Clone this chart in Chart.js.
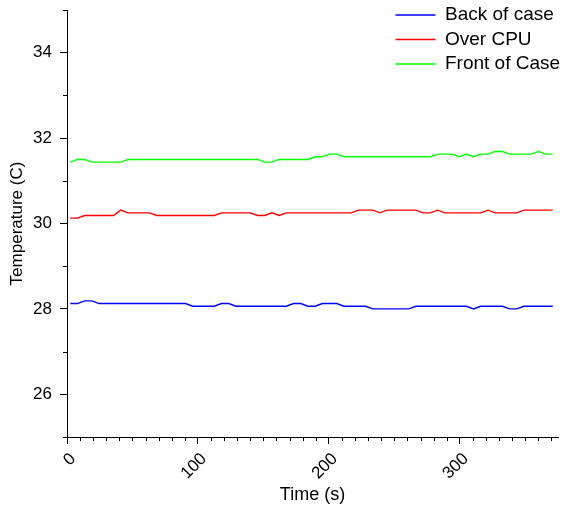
<!DOCTYPE html>
<html>
<head>
<meta charset="utf-8">
<script src="https://cdn.jsdelivr.net/npm/chart.js@4.4.1/dist/chart.umd.min.js"></script>
<style>
  html, body { margin: 0; padding: 0; background: #fff; }
</style>
</head>
<body>
<canvas id="chart" width="570" height="512"></canvas>
<script>
// sample times in seconds
const times = [
  2.5, 8, 13.5, 19, 24.5, 30, 35.5, 41, 46.5, 52,
  57.5, 63, 68.5, 74, 79.5, 85, 90.5, 96, 101.5, 107,
  112.5, 118, 123.5, 129, 134.5, 140, 145.5, 151, 156.5, 162,
  167.5, 173, 178.5, 184, 189.5, 195, 200.5, 206, 211.5, 217,
  222.5, 228, 233.5, 239, 244.5, 250, 255.5, 261, 266.5, 272,
  277.5, 283, 288.5, 294, 299.5, 305, 310.5, 316, 321.5, 327,
  332.5, 338, 343.5, 349, 354.5, 360, 365.5, 371
];

const backOfCase = [
  28.125, 28.125, 28.1875, 28.1875, 28.125, 28.125, 28.125, 28.125, 28.125, 28.125,
  28.125, 28.125, 28.125, 28.125, 28.125, 28.125, 28.125, 28.0625, 28.0625, 28.0625,
  28.0625, 28.125, 28.125, 28.0625, 28.0625, 28.0625, 28.0625, 28.0625, 28.0625, 28.0625,
  28.0625, 28.125, 28.125, 28.0625, 28.0625, 28.125, 28.125, 28.125, 28.0625, 28.0625,
  28.0625, 28.0625, 28.0, 28.0, 28.0, 28.0, 28.0, 28.0, 28.0625, 28.0625,
  28.0625, 28.0625, 28.0625, 28.0625, 28.0625, 28.0625, 28.0, 28.0625, 28.0625, 28.0625,
  28.0625, 28.0, 28.0, 28.0625, 28.0625, 28.0625, 28.0625, 28.0625
];

const overCpu = [
  30.125, 30.125, 30.1875, 30.1875, 30.1875, 30.1875, 30.1875, 30.3125, 30.25, 30.25,
  30.25, 30.25, 30.1875, 30.1875, 30.1875, 30.1875, 30.1875, 30.1875, 30.1875, 30.1875,
  30.1875, 30.25, 30.25, 30.25, 30.25, 30.25, 30.1875, 30.1875, 30.25, 30.1875,
  30.25, 30.25, 30.25, 30.25, 30.25, 30.25, 30.25, 30.25, 30.25, 30.25,
  30.3125, 30.3125, 30.3125, 30.25, 30.3125, 30.3125, 30.3125, 30.3125, 30.3125, 30.25,
  30.25, 30.3125, 30.25, 30.25, 30.25, 30.25, 30.25, 30.25, 30.3125, 30.25,
  30.25, 30.25, 30.25, 30.3125, 30.3125, 30.3125, 30.3125, 30.3125
];

const frontOfCase = [
  31.4375, 31.5, 31.5, 31.4375, 31.4375, 31.4375, 31.4375, 31.4375, 31.5, 31.5,
  31.5, 31.5, 31.5, 31.5, 31.5, 31.5, 31.5, 31.5, 31.5, 31.5,
  31.5, 31.5, 31.5, 31.5, 31.5, 31.5, 31.5, 31.4375, 31.4375, 31.5,
  31.5, 31.5, 31.5, 31.5, 31.5625, 31.5625, 31.625, 31.625, 31.5625, 31.5625,
  31.5625, 31.5625, 31.5625, 31.5625, 31.5625, 31.5625, 31.5625, 31.5625, 31.5625, 31.5625,
  31.5625, 31.625, 31.625, 31.625, 31.5625, 31.625, 31.5625, 31.625, 31.625, 31.6875,
  31.6875, 31.625, 31.625, 31.625, 31.625, 31.6875, 31.625, 31.625
];

const seriesNames = ['Back of case', 'Over CPU', 'Front of Case'];
const seriesColors = ['#0000ff', '#ff0000', '#00ff00'];

const xTicks = [0, 100, 200, 300];
const yTicks = [26, 28, 30, 32, 34];

Chart.defaults.font.family = '"Liberation Sans", Arial, sans-serif';
Chart.defaults.color = '#000';

function toPoints(vals) {
  return vals.map((v, i) => ({ x: times[i], y: v }));
}

// short ticks between the labelled ones
const minorTicks = {
  id: 'minorTicks',
  afterDraw(chart) {
    const { ctx, scales: { x, y } } = chart;
    ctx.save();
    ctx.strokeStyle = '#000';
    ctx.lineWidth = 1;
    ctx.beginPath();
    for (let v = 10; v <= x.max; v += 10) {
      if (v % 100 === 0) continue;
      const px = Math.round(x.getPixelForValue(v)) + 0.5;
      ctx.moveTo(px, x.top);
      ctx.lineTo(px, x.top + 4);
    }
    for (let v = 25; v <= 35; v++) {
      if (v % 2 === 0) continue;
      const py = Math.round(y.getPixelForValue(v)) + 0.5;
      ctx.moveTo(y.right, py);
      ctx.lineTo(y.right - 4, py);
    }
    ctx.stroke();
    ctx.restore();
  }
};

// move the legend to the top right corner, over the plot
const legendSpot = {
  id: 'legendSpot',
  afterLayout(chart) {
    const l = chart.legend;
    l.left = 390;
    l.right = 570;
    l.top = 0;
    l.bottom = 100;
  }
};

const ctx = document.getElementById('chart').getContext('2d');
const myChart = new Chart(ctx, {
  type: 'line',
  data: {
    datasets: [backOfCase, overCpu, frontOfCase].map((vals, i) => ({
      label: seriesNames[i],
      data: toPoints(vals),
      borderColor: seriesColors[i],
      backgroundColor: seriesColors[i],
      borderWidth: 1.4,
      pointRadius: 0,
      pointStyle: 'line',
      tension: 0,
      fill: false
    }))
  },
  options: {
    responsive: false,
    animation: false,
    layout: { padding: { top: 10, right: 12, left: 0, bottom: 0 } },
    plugins: {
      legend: {
        position: 'chartArea',
        align: 'start',
        labels: {
          usePointStyle: true,
          pointStyleWidth: 40,
          padding: 5.5,
          font: { size: 19 }
        }
      },
      tooltip: { enabled: false }
    },
    scales: {
      x: {
        type: 'linear',
        min: 0,
        max: 375,
        afterFit: s => { s.height = 75; },
        afterBuildTicks: s => { s.ticks = xTicks.map(v => ({ value: v })); },
        border: { display: true, color: '#000', width: 1 },
        grid: { display: true, drawOnChartArea: false, drawTicks: true, tickLength: 7, color: '#000' },
        ticks: { autoSkip: false, minRotation: 45, maxRotation: 45, padding: 5, labelOffset: 6, font: { size: 17 } },
        title: { display: true, text: 'Time (s)', font: { size: 18 }, padding: { top: 4, bottom: 6 } }
      },
      y: {
        min: 25,
        max: 35,
        afterFit: s => { s.width = 67; s.paddingTop = 0; s.paddingBottom = 0; },
        afterBuildTicks: s => { s.ticks = yTicks.map(v => ({ value: v })); },
        border: { display: true, color: '#000', width: 1 },
        grid: { display: true, drawOnChartArea: false, drawTicks: true, tickLength: 7, color: '#000' },
        ticks: { padding: 8, font: { size: 17 } },
        title: { display: true, text: 'Temperature (C)', font: { size: 17 }, padding: { top: 7, bottom: 4 } }
      }
    }
  },
  plugins: [minorTicks, legendSpot]
});
</script>
</body>
</html>
